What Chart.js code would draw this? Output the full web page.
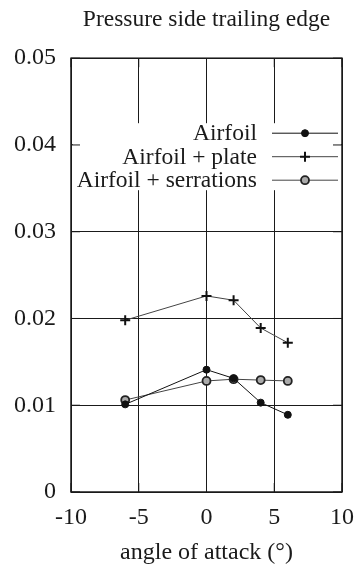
<!DOCTYPE html>
<html>
<head>
<meta charset="utf-8">
<script src="https://cdn.jsdelivr.net/npm/chart.js@4/dist/chart.umd.min.js"></script>
<style>
  html, body { margin: 0; padding: 0; background: #fff; }
  canvas { display: block; }
</style>
</head>
<body>
<canvas id="chart" width="359" height="568"></canvas>
<script>
// angle of attack (deg) and measured values per configuration
const angles = [-6, 0, 2, 4, 6];
const airfoil = [0.0101, 0.0141, 0.0131, 0.0103, 0.0089];
const airfoilPlate = [0.0198, 0.0226, 0.0221, 0.0189, 0.0172];
const airfoilSerrations = [0.0106, 0.0128, 0.0130, 0.0129, 0.0128];
const seriesLabels = ['Airfoil', 'Airfoil + plate', 'Airfoil + serrations'];
const xTicks = [-10, -5, 0, 5, 10];
const yTicks = [0, 0.01, 0.02, 0.03, 0.04, 0.05];

const SERIF = "'Liberation Serif', 'DejaVu Serif', serif";
const INK = '#1a1a1a';

const toPoints = ys => angles.map((a, i) => ({ x: a, y: ys[i] }));

// gnuplot-style key: right-aligned text, line sample with marker on the right
const keyPlugin = {
  id: 'gnuKey',
  afterDatasetsDraw(chart) {
    const { ctx, chartArea } = chart;
    const rowH = 23.5;
    const firstRow = chartArea.top + 75;
    const sampleRight = chartArea.right - 4;
    const sampleLeft = sampleRight - 66;
    const textRight = sampleLeft - 15;
    const mid = (sampleLeft + sampleRight) / 2;
    ctx.save();
    ctx.font = '23.5px ' + SERIF;
    const widest = Math.max(...chart.data.datasets.map(d => ctx.measureText(d.label).width));
    const n = chart.data.datasets.length;
    const boxLeft = textRight - widest - 4;
    // opaque key background
    ctx.fillStyle = '#fff';
    ctx.fillRect(boxLeft, firstRow - 10, chartArea.right - 1 - boxLeft, (n - 1) * rowH + 20);
    chart.data.datasets.forEach((ds, i) => {
      const y = firstRow + i * rowH;
      ctx.fillStyle = INK;
      ctx.textAlign = 'right';
      ctx.textBaseline = 'middle';
      ctx.fillText(ds.label, textRight, y + 1);
      ctx.strokeStyle = ds.borderColor;
      ctx.lineWidth = ds.borderWidth;
      ctx.beginPath();
      ctx.moveTo(sampleLeft, y);
      ctx.lineTo(sampleRight, y);
      ctx.stroke();
      ctx.fillStyle = ds.pointBackgroundColor;
      ctx.strokeStyle = ds.pointBorderColor;
      ctx.lineWidth = ds.pointBorderWidth;
      ctx.beginPath();
      if (ds.pointStyle === 'circle') {
        ctx.arc(mid, y, ds.pointRadius, 0, Math.PI * 2);
        ctx.fill();
        ctx.stroke();
      } else {
        ctx.moveTo(mid - ds.pointRadius, y);
        ctx.lineTo(mid + ds.pointRadius, y);
        ctx.moveTo(mid, y - ds.pointRadius);
        ctx.lineTo(mid, y + ds.pointRadius);
        ctx.stroke();
      }
    });
    ctx.restore();
  },
  afterDraw(chart) {
    // frame plus inward mirrored tics
    const { ctx, chartArea, scales } = chart;
    const tic = 9;
    ctx.save();
    ctx.strokeStyle = INK;
    ctx.lineWidth = 1;
    ctx.beginPath();
    xTicks.forEach(v => {
      const px = scales.x.getPixelForValue(v);
      ctx.moveTo(px, chartArea.bottom);
      ctx.lineTo(px, chartArea.bottom - tic);
      ctx.moveTo(px, chartArea.top);
      ctx.lineTo(px, chartArea.top + tic);
    });
    yTicks.forEach(v => {
      const py = scales.y.getPixelForValue(v);
      ctx.moveTo(chartArea.left, py);
      ctx.lineTo(chartArea.left + tic, py);
      ctx.moveTo(chartArea.right, py);
      ctx.lineTo(chartArea.right - tic, py);
    });
    ctx.stroke();
    ctx.lineWidth = 1.5;
    ctx.strokeRect(chartArea.left, chartArea.top, chartArea.right - chartArea.left, chartArea.bottom - chartArea.top);
    ctx.restore();
  }
};

new Chart(document.getElementById('chart'), {
  type: 'scatter',
  data: {
    datasets: [
      {
        label: seriesLabels[0],
        data: toPoints(airfoil),
        showLine: true,
        borderColor: '#111',
        borderWidth: 1,
        pointStyle: 'circle',
        pointRadius: 3.5,
        pointBorderWidth: 1,
        pointBackgroundColor: '#111',
        pointBorderColor: '#111'
      },
      {
        label: seriesLabels[1],
        data: toPoints(airfoilPlate),
        showLine: true,
        borderColor: '#444',
        borderWidth: 1,
        pointStyle: 'cross',
        pointRadius: 5,
        pointBorderWidth: 2,
        pointBackgroundColor: '#111',
        pointBorderColor: '#111'
      },
      {
        label: seriesLabels[2],
        data: toPoints(airfoilSerrations),
        showLine: true,
        borderColor: '#444',
        borderWidth: 1,
        pointStyle: 'circle',
        pointRadius: 4,
        pointBorderWidth: 1.8,
        pointBackgroundColor: '#aaa',
        pointBorderColor: '#222'
      }
    ]
  },
  options: {
    responsive: false,
    animation: false,
    layout: { padding: { left: 0, right: 17, top: 0, bottom: 0 } },
    plugins: {
      legend: { display: false },
      tooltip: { enabled: false },
      title: {
        display: true,
        fullSize: false,
        text: 'Pressure side trailing edge',
        color: INK,
        font: { family: SERIF, size: 23.5, weight: 'normal' },
        padding: { top: 6, bottom: 24 }
      }
    },
    scales: {
      x: {
        type: 'linear',
        min: -10,
        max: 10,
        afterBuildTicks: s => { s.ticks = xTicks.map(v => ({ value: v })); },
        afterFit: s => { s.height = 76; s.paddingLeft = 0; s.paddingRight = 0; },
        grid: { color: INK, lineWidth: 1, drawTicks: false },
        border: { display: false },
        ticks: {
          color: INK,
          padding: 11,
          font: { family: SERIF, size: 24 }
        },
        title: {
          display: true,
          text: 'angle of attack (°)',
          color: INK,
          font: { family: SERIF, size: 24 },
          padding: { top: 0, bottom: 1 }
        }
      },
      y: {
        type: 'linear',
        min: 0,
        max: 0.05,
        afterBuildTicks: s => { s.ticks = yTicks.map(v => ({ value: v })); },
        afterFit: s => { s.width = 71; },
        grid: { color: INK, lineWidth: 1, drawTicks: false },
        border: { display: false },
        ticks: {
          color: INK,
          padding: 15,
          font: { family: SERIF, size: 24 },
          callback: v => v === 0 ? '0' : v.toFixed(2)
        }
      }
    }
  },
  plugins: [keyPlugin]
});
</script>
</body>
</html>
